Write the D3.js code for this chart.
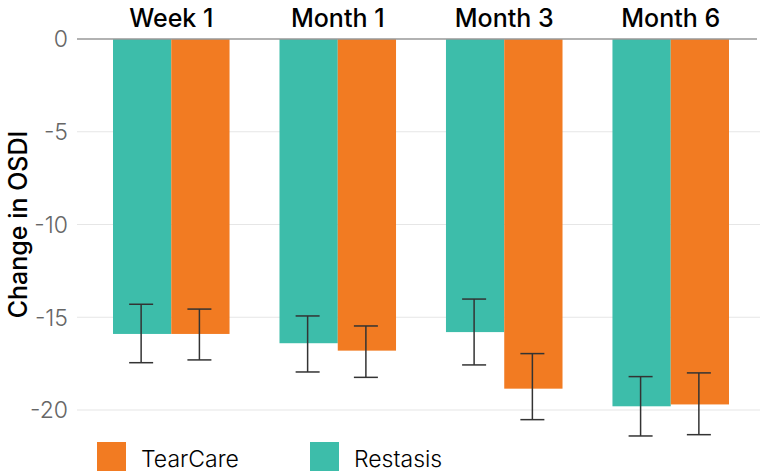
<!DOCTYPE html>
<html><head><meta charset="utf-8">
<script src="https://cdn.jsdelivr.net/npm/d3@7"></script>
<style>body{margin:0;background:#fff}svg{display:block}</style>
</head><body><svg id="c" width="760" height="475"></svg>
<script>
const categories = ["Week 1", "Month 1", "Month 3", "Month 6"];
const seriesNames = ["Restasis", "TearCare"];
const restasis = [-15.9, -16.4, -15.8, -19.8];
const restasisLow = [-17.45, -17.95, -17.57, -21.4];
const restasisHigh = [-14.3, -14.93, -14.02, -18.2];
const tearcare = [-15.9, -16.8, -18.85, -19.7];
const tearcareLow = [-17.3, -18.24, -20.52, -21.33];
const tearcareHigh = [-14.56, -15.47, -16.96, -18.0];
const yTicks = [0, -5, -10, -15, -20];
const legendOrder = ["TearCare", "Restasis"];
const colors = {Restasis: "#3dbdaa", TearCare: "#f27b22"};

const svg = d3.select("#c");
const y = d3.scaleLinear().domain([0, -20]).range([39, 410]);
const x0 = d3.scaleBand().domain(categories).range([113, 729]).paddingInner(0.3).paddingOuter(0);
const x1 = d3.scaleBand().domain(seriesNames).range([0, x0.bandwidth()]);

// gridlines
svg.append("g").selectAll("line").data(yTicks.filter(t => t !== 0)).join("line")
  .attr("x1", 77).attr("x2", 760).attr("y1", d => y(d)).attr("y2", d => y(d))
  .attr("stroke", "#e6e6e6").attr("stroke-width", 1.2);

// y tick labels
svg.append("g").selectAll("text").data(yTicks).join("text")
  .attr("x", 68).attr("y", d => y(d)).attr("dy", "0.36em")
  .attr("text-anchor", "end").attr("fill", "#666")
  .attr("font-family", "Inter, sans-serif").attr("font-weight", 300).attr("font-size", 23)
  .text(d => d);

const data = categories.map((c, i) => ({
  cat: c,
  vals: [
    {s: "Restasis", v: restasis[i], lo: restasisLow[i], hi: restasisHigh[i]},
    {s: "TearCare", v: tearcare[i], lo: tearcareLow[i], hi: tearcareHigh[i]}
  ]
}));

const g = svg.append("g").selectAll("g").data(data).join("g")
  .attr("transform", d => `translate(${x0(d.cat)},0)`);
g.selectAll("rect").data(d => d.vals).join("rect")
  .attr("x", d => x1(d.s)).attr("width", x1.bandwidth())
  .attr("y", y(0)).attr("height", d => y(d.v) - y(0))
  .attr("fill", d => colors[d.s]);

// zero line
svg.append("line").attr("x1", 77).attr("x2", 757).attr("y1", y(0)).attr("y2", y(0))
  .attr("stroke", "#999").attr("stroke-width", 1.5);

// error bars
const eb = g.selectAll("g.eb").data(d => d.vals).join("g").attr("class", "eb")
  .attr("stroke", "#333").attr("stroke-width", 1.5);
const cx = d => x1(d.s) + x1.bandwidth() / 2 - 1;
eb.append("line").attr("x1", cx).attr("x2", cx).attr("y1", d => y(d.hi)).attr("y2", d => y(d.lo));
eb.append("line").attr("x1", d => cx(d) - 12).attr("x2", d => cx(d) + 12).attr("y1", d => y(d.hi)).attr("y2", d => y(d.hi));
eb.append("line").attr("x1", d => cx(d) - 12).attr("x2", d => cx(d) + 12).attr("y1", d => y(d.lo)).attr("y2", d => y(d.lo));

// category labels on top
svg.append("g").selectAll("text").data(categories).join("text")
  .attr("x", d => x0(d) + x0.bandwidth() / 2).attr("y", 27)
  .attr("text-anchor", "middle").attr("fill", "#000")
  .attr("font-family", "Inter, sans-serif").attr("font-weight", 500).attr("font-size", 25)
  .text(d => d);

// y axis title
svg.append("text").attr("transform", `translate(27,${(y(0) + y(-20)) / 2}) rotate(-90)`)
  .attr("text-anchor", "middle").attr("fill", "#000")
  .attr("font-family", "Inter, sans-serif").attr("font-weight", 500).attr("font-size", 25)
  .text("Change in OSDI");

// legend
const lx = [97, 310];
const lg = svg.append("g").selectAll("g").data(legendOrder).join("g")
  .attr("transform", (d, i) => `translate(${lx[i]},442)`);
lg.append("rect").attr("width", 29).attr("height", 29).attr("fill", d => colors[d]);
lg.append("text").attr("x", 44).attr("y", 25)
  .attr("fill", "#000").attr("font-family", "Inter, sans-serif").attr("font-weight", 300).attr("font-size", 23)
  .text(d => d);
</script></body></html>
